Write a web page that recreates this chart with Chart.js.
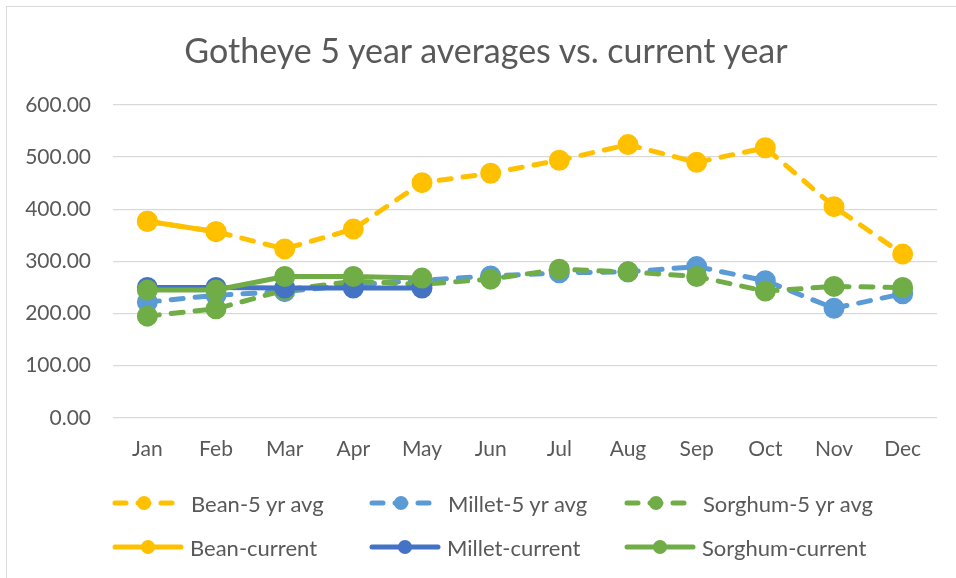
<!DOCTYPE html>
<html>
<head>
<meta charset="utf-8">
<script src="https://cdn.jsdelivr.net/npm/chart.js@4.4.1/dist/chart.umd.min.js"></script>
<style>
  html, body { margin: 0; padding: 0; background: #fff; }
  #wrap { position: relative; width: 956px; height: 578px; overflow: hidden; }
  #frame { position: absolute; left: 6px; top: 6px; width: 1200px; height: 1200px;
           border-left: 1.5px solid #d9d9d9; border-top: 1.5px solid #d9d9d9; }
  #chart { position: absolute; left: 0; top: 0; }
  #title { position: absolute; left: 0; width: 972px; top: 30px; height: 40px; line-height: 40px;
           text-align: center; font-family: Lato, sans-serif; font-size: 34px; color: #595959; white-space: nowrap; }
  .item { position: absolute; height: 30px; display: flex; align-items: center;
          font-family: Lato, sans-serif; font-size: 22px; color: #595959; white-space: nowrap; }
  .item svg { display: block; }
</style>
</head>
<body>
<div id="wrap">
  <div id="frame"></div>
  <canvas id="chart" width="956" height="578"></canvas>
  <div id="title">Gotheye 5 year averages vs. current year</div>
  <div id="legend"></div>
</div>
<script>
var months = ["Jan", "Feb", "Mar", "Apr", "May", "Jun", "Jul", "Aug", "Sep", "Oct", "Nov", "Dec"];

var beanAvg    = [377, 357, 324, 362, 451, 469, 494, 524, 490, 518, 405, 314];
var milletAvg  = [222, 235, 242, 255, 264, 272, 278, 280, 290, 263, 210, 238];
var sorghumAvg = [195, 209, 245, 262, 256, 266, 285, 280, 271, 243, 252, 250];

var beanCur    = [377, 357, null, null, null, null, null, null, null, null, null, null];
var milletCur  = [250, 250, 249, 249, 249, null, null, null, null, null, null, null];
var sorghumCur = [245, 245, 271, 271, 268, null, null, null, null, null, null, null];

var yTicks = [0, 100, 200, 300, 400, 500, 600];

var series = [
  { label: "Bean-5 yr avg",    data: beanAvg,    color: "#FFC000", dashed: true },
  { label: "Millet-5 yr avg",  data: milletAvg,  color: "#5B9BD5", dashed: true },
  { label: "Sorghum-5 yr avg", data: sorghumAvg, color: "#70AD47", dashed: true },
  { label: "Bean-current",     data: beanCur,    color: "#FFC000", dashed: false },
  { label: "Millet-current",   data: milletCur,  color: "#4472C4", dashed: false },
  { label: "Sorghum-current",  data: sorghumCur, color: "#70AD47", dashed: false }
];

var textColor = "#595959";
var gridColor = "#d9d9d9";

var datasets = series.map(function(s, i) {
  return {
    label: s.label,
    data: s.data,
    borderColor: s.color,
    backgroundColor: s.color,
    pointBackgroundColor: s.color,
    pointBorderColor: s.color,
    borderWidth: 5,
    borderDash: s.dashed ? [12, 12] : [],
    borderCapStyle: "round",
    borderJoinStyle: "round",
    pointRadius: 8,
    pointHoverRadius: 8,
    tension: 0,
    spanGaps: false,
    order: series.length - 1 - i
  };
});

var ctx = document.getElementById("chart").getContext("2d");
var chart = new Chart(ctx, {
  type: "line",
  data: { labels: months, datasets: datasets },
  options: {
    responsive: false,
    animation: false,
    layout: { padding: { left: 0, right: 19, top: 105, bottom: 97 } },
    plugins: {
      legend: { display: false },
      tooltip: { enabled: false },
      title: { display: false }
    },
    scales: {
      x: {
        offset: true,
        grid: { display: false, drawTicks: false },
        border: { display: false },
        ticks: { color: textColor, font: { family: "Lato", size: 21 }, padding: 19 }
      },
      y: {
        min: 0,
        max: 600,
        afterFit: function(scale) { scale.width = 113; },
        afterBuildTicks: function(scale) {
          scale.ticks = yTicks.map(function(v) { return { value: v }; });
        },
        grid: { color: gridColor, lineWidth: 1.3, drawTicks: false },
        border: { display: false },
        ticks: {
          color: textColor,
          font: { family: "Lato", size: 21 },
          padding: 22,
          callback: function(v) { return Number(v).toFixed(2); }
        }
      }
    }
  }
});

// legend laid out in a 3 x 2 grid like the original
var colX = [112, 369, 624];
var rowY = [503, 547];
var legend = document.getElementById("legend");
series.forEach(function(s, i) {
  var col = i % 3, row = Math.floor(i / 3);
  var w = s.dashed ? 63 : 72;
  var item = document.createElement("div");
  item.className = "item";
  item.style.left = colX[col] + "px";
  item.style.top = (rowY[row] - 15) + "px";
  var line = s.dashed
    ? '<line x1="3" y1="15" x2="' + (w - 3) + '" y2="15" stroke="' + s.color + '" stroke-width="5" stroke-linecap="round" stroke-dasharray="11 12"/>'
    : '<line x1="3" y1="15" x2="' + (w - 3) + '" y2="15" stroke="' + s.color + '" stroke-width="5" stroke-linecap="round"/>';
  item.innerHTML = '<svg width="' + w + '" height="30">' + line +
    '<circle cx="' + (s.dashed ? 32 : 36) + '" cy="15" r="7" fill="' + s.color + '"/></svg>' +
    '<span style="margin-left:' + (s.dashed ? 16 : 6) + 'px">' + s.label + '</span>';
  legend.appendChild(item);
});
</script>
</body>
</html>
